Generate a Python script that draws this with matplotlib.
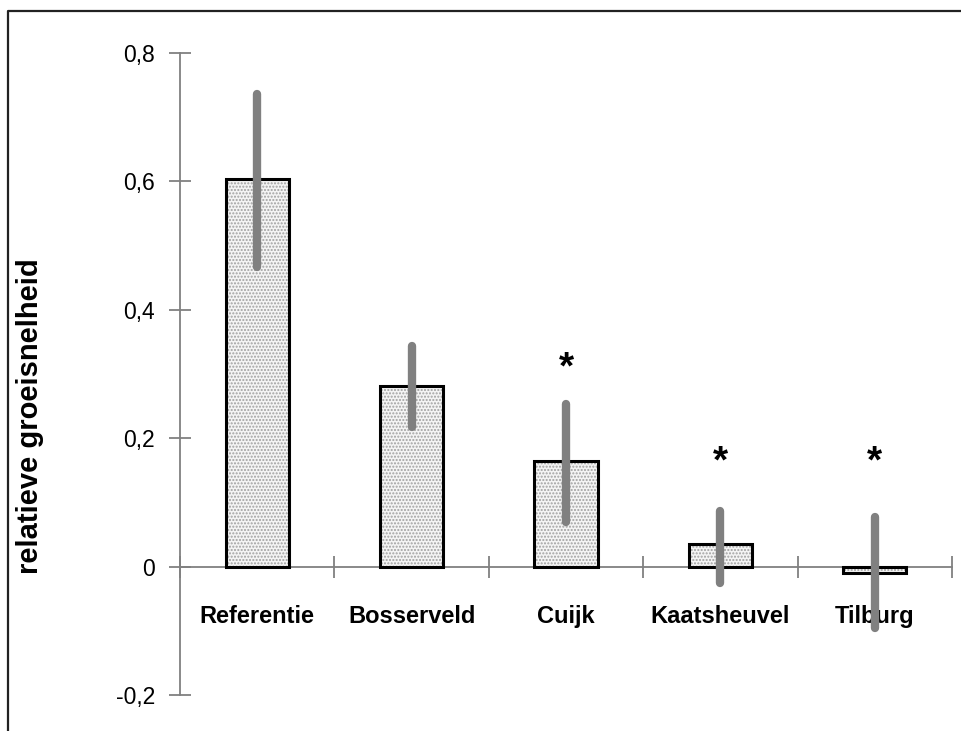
import matplotlib.pyplot as plt
from matplotlib.lines import Line2D
import numpy as np

plt.rcParams['font.family'] = ['Liberation Sans', 'DejaVu Sans']
plt.rcParams['hatch.linewidth'] = 1.0

# data
sites = ['Referentie', 'Bosserveld', 'Cuijk', 'Kaatsheuvel', 'Tilburg']
growth = [0.604, 0.281, 0.165, 0.035, -0.010]
err_low = [0.467, 0.218, 0.070, -0.025, -0.096]
err_high = [0.736, 0.344, 0.253, 0.087, 0.077]
star_y = [None, None, 0.308, 0.162, 0.162]

yticks = [-0.2, 0, 0.2, 0.4, 0.6, 0.8]
ytick_labels = ['-0,2', '0', '0,2', '0,4', '0,6', '0,8']

grey = '#808080'

fig = plt.figure(figsize=(9.62, 7.31), dpi=100)
ax = fig.add_axes([180 / 962, 36 / 731, 772 / 962, 642 / 731])

x = np.arange(len(sites)) + 0.5

# stippled fill, then black outline on top
ax.bar(x, growth, width=0.41, color='#f4f4f4', edgecolor='#a0a0a0',
       hatch='.....', linewidth=0, zorder=2)
ax.bar(x, growth, width=0.41, color='none', edgecolor='black',
       linewidth=2.2, zorder=3)

lc = ax.vlines(x, err_low, err_high, color=grey, linewidth=6, zorder=4)
lc.set_capstyle('round')

for xi, sy in zip(x, star_y):
    if sy is not None:
        ax.text(xi, sy, '*', ha='center', va='center', fontsize=28,
                fontweight='bold')

ax.set_xlim(0, 5)
ax.set_ylim(-0.2, 0.8)

for s in ['top', 'right']:
    ax.spines[s].set_visible(False)
ax.spines['bottom'].set_position(('data', 0))
ax.spines['bottom'].set_color(grey)
ax.spines['left'].set_color(grey)
ax.spines['bottom'].set_linewidth(1.3)
ax.spines['left'].set_linewidth(1.3)

ax.set_yticks(yticks)
ax.set_yticklabels(ytick_labels, fontsize=16.5)
ax.tick_params(axis='y', direction='inout', length=16, width=1.3,
               color=grey, pad=10)

ax.set_xticks(np.arange(len(sites) + 1))
ax.set_xticklabels([])
ax.set_xticks(x, minor=True)
ax.set_xticklabels(sites, minor=True, fontsize=17, fontweight='bold')
ax.tick_params(axis='x', which='major', direction='inout', length=16,
               width=1.3, color=grey)
ax.tick_params(axis='x', which='minor', length=0, pad=28)

fig.text(30 / 962, 1 - 416 / 731, 'relatieve groeisnelheid', rotation=90,
         ha='center', va='center', fontsize=21, fontweight='bold')

# outer frame (cut off at right and bottom)
fx = 8 / 962
fy = 1 - 10.5 / 731
fig.add_artist(Line2D([fx, fx, 1.0], [0.0, fy, fy], color='#222222',
                      linewidth=1.6, transform=fig.transFigure))

fig.savefig('out.png', dpi=100)
